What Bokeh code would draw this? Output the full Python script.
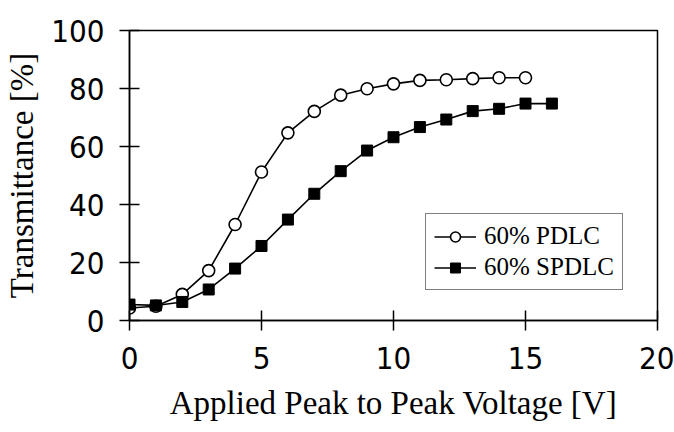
from bokeh.plotting import figure
from bokeh.models import Range1d, Legend, LegendItem, FixedTicker
from bokeh.embed import file_html
from bokeh.resources import INLINE

voltage_pdlc = [0, 1, 2, 3, 4, 5, 6, 7, 8, 9, 10, 11, 12, 13, 14, 15]
trans_pdlc = [4.3, 4.9, 9.0, 17.2, 33.1, 51.2, 64.7, 72.1, 77.7, 79.9, 81.6, 82.8, 83.0, 83.4, 83.7, 83.7]
voltage_spdlc = [0, 1, 2, 3, 4, 5, 6, 7, 8, 9, 10, 11, 12, 13, 14, 15, 16]
trans_spdlc = [5.5, 5.2, 6.4, 10.7, 17.9, 25.7, 34.8, 43.7, 51.5, 58.6, 63.2, 66.7, 69.3, 72.2, 73.0, 74.8, 74.8]
x_ticks = [0, 5, 10, 15, 20]
y_ticks = [0, 20, 40, 60, 80, 100]
label_pdlc = "60% PDLC"
label_spdlc = "60% SPDLC"

p = figure(width=674, height=432, output_backend="svg", toolbar_location=None,
           x_range=Range1d(0, 20), y_range=Range1d(0, 100),
           min_border_left=129, min_border_right=17, min_border_top=30, min_border_bottom=112)
p.background_fill_color = "white"
p.border_fill_color = "white"
p.outline_line_color = "black"
p.outline_line_width = 1.5
p.xgrid.visible = False
p.ygrid.visible = False

tick_font = "'DejaVu Sans Condensed', 'Liberation Sans'"
label_font = "Liberation Serif"
for ax in (p.xaxis[0], p.yaxis[0]):
    ax.axis_line_color = "black"
    ax.axis_line_width = 1.5
    ax.major_tick_line_color = "black"
    ax.major_tick_line_width = 1.5
    ax.major_tick_in = 10
    ax.major_tick_out = 10
    ax.minor_tick_line_color = None
    ax.major_label_text_font = tick_font
    ax.major_label_text_font_size = "31px"
    ax.major_label_text_color = "black"
    ax.axis_label_text_font = label_font
    ax.axis_label_text_font_size = "33px"
    ax.axis_label_text_font_style = "normal"
    ax.axis_label_text_color = "black"

p.xaxis[0].ticker = FixedTicker(ticks=x_ticks)
p.yaxis[0].ticker = FixedTicker(ticks=y_ticks)
p.xaxis[0].axis_label = "Applied Peak to Peak Voltage [V]"
p.yaxis[0].axis_label = "Transmittance [%]"
p.xaxis[0].major_label_standoff = 16
p.yaxis[0].major_label_standoff = 15
p.xaxis[0].axis_label_standoff = 13
p.yaxis[0].axis_label_standoff = 8

l1 = p.line(voltage_pdlc, trans_pdlc, line_color="black", line_width=1.6)
s1 = p.scatter(voltage_pdlc, trans_pdlc, marker="circle", size=12, fill_color="white",
               line_color="black", line_width=1.6)
l2 = p.line(voltage_spdlc, trans_spdlc, line_color="black", line_width=1.6)
s2 = p.scatter(voltage_spdlc, trans_spdlc, marker="square", size=11, fill_color="black",
               line_color="black", line_width=1)

legend = Legend(items=[LegendItem(label=label_pdlc, renderers=[l1, s1]),
                       LegendItem(label=label_spdlc, renderers=[l2, s2])],
                location=(296, 30))
legend.label_text_font = label_font
legend.label_text_font_size = "25px"
legend.label_text_color = "black"
legend.border_line_color = "black"
legend.border_line_width = 1.5
legend.background_fill_color = "white"
legend.background_fill_alpha = 1.0
legend.glyph_width = 42
legend.glyph_height = 25
legend.label_height = 25
legend.label_standoff = 8
legend.padding = 8
legend.spacing = 3
legend.margin = 0
p.add_layout(legend, "center")

open("out.html", "w").write(file_html(p, INLINE))
